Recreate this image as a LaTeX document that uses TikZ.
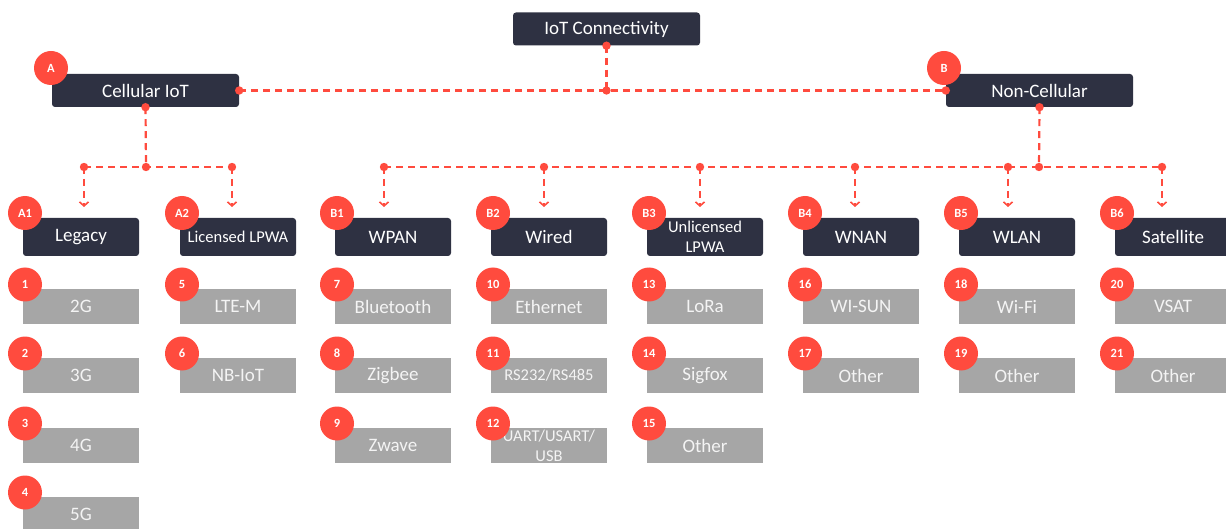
\documentclass[tikz,border=0pt]{standalone}
\usepackage{fontspec}
\setmainfont{Carlito}
\usetikzlibrary{arrows.meta,calc}
\definecolor{dk}{HTML}{2E3142}
\definecolor{rd}{HTML}{FF4B3E}
\definecolor{gy}{HTML}{A6A6A6}
\definecolor{gtx}{HTML}{F4F4F4}
\begin{document}
\begin{tikzpicture}[x=1pt,y=-1pt,
  dbox/.style={fill=dk,rounded corners=3pt,text=white,font=\fontsize{19}{20}\selectfont,minimum width=116pt,minimum height=38pt,inner sep=0pt,align=center},
  topbox/.style={dbox,minimum width=187pt,minimum height=33pt},
  gbox/.style={fill=gy,text=gtx,font=\fontsize{19}{20}\selectfont,minimum width=116pt,minimum height=35pt,inner sep=0pt,align=center},
  small/.style={font=\fontsize{16.5}{20}\selectfont},
  badge/.style={circle,fill=rd,text=white,font=\bfseries\fontsize{12.5}{12}\selectfont,minimum size=34pt,inner sep=0pt},
  link/.style={draw=rd,line width=2.2pt,dash pattern=on 7pt off 5pt},
  arr/.style={link,-{Straight Barb[length=4pt,width=9pt,line width=1.6pt]}},
  jdot/.style={fill=rd}
]
\useasboundingbox (0,0) rectangle (1226,529);

% top level
\node[topbox] (iot) at (606.5,29) {IoT Connectivity};
\node[topbox] (cell) at (145.5,90.5) {Cellular IoT};
\node[topbox] (ncell) at (1039.5,90.5) {Non-Cellular};
\node[badge] (bA) at (51,68) {A};
\node[badge] (bB) at (944,68) {B};

% second level
\node[dbox] (c1) at (81,237) {Legacy};
\node[dbox,small] (c2) at (238,237) {Licensed LPWA};
\node[dbox] (c3) at (393,237) {WPAN};
\node[dbox] (c4) at (549,237) {Wired};
\node[dbox,small] (c5) at (705,237) {Unlicensed\\LPWA};
\node[dbox] (c6) at (861,237) {WNAN};
\node[dbox] (c7) at (1017,237) {WLAN};
\node[dbox] (c8) at (1173,237) {Satellite};
\foreach \n/\x/\t in {b1/25/A1,b2/182/A2,b3/337/B1,b4/493/B2,b5/649/B3,b6/805/B4,b7/961/B5,b8/1117/B6}
  \node[badge] (\n) at (\x,213) {\t};

% connectors
\coordinate (jtop) at (606.5,90.5);
\coordinate (jA) at (146,167);
\coordinate (jB) at (1039,167);
\coordinate (aL) at (84,167);
\coordinate (aR) at (232,167);
\coordinate (bL) at (384,167);
\coordinate (bR) at (1162,167);
\draw[link] (iot.south) -- (jtop);
\draw[link] (cell.east) -- (ncell.west);
\draw[link] (cell.south) -- (jA);
\draw[link] (aL) -- (aR);
\draw[link] (ncell.south) -- (jB);
\draw[link] (bL) -- (bR);
\foreach \x in {84,232,384,544,700,855,1008,1162}
  \draw[arr] (\x,167) -- (\x,207);
\foreach \p in {iot.south,jtop,cell.east,ncell.west,cell.south,ncell.south,jA,jB}
  \fill[jdot] (\p) circle (4.2);
\foreach \x in {84,232,384,544,700,855,1008,1162}
  \fill[jdot] (\x,167) circle (4.2);

% third level items
\foreach \n/\x/\y/\num/\t in {
  i1/81/306.5/1/2G, i2/81/375.5/2/3G, i3/81/445.5/3/4G, i4/81/514.5/4/5G,
  i5/238/306.5/5/LTE-M, i6/238/375.5/6/NB-IoT,
  i7/393/306.5/7/Bluetooth, i8/393/375.5/8/Zigbee, i9/393/445.5/9/Zwave,
  i10/549/306.5/10/Ethernet,
  i13/705/306.5/13/LoRa, i14/705/375.5/14/Sigfox, i15/705/445.5/15/Other,
  i16/861/306.5/16/WI-SUN, i17/861/375.5/17/Other,
  i18/1017/306.5/18/Wi-Fi, i19/1017/375.5/19/Other,
  i20/1173/306.5/20/VSAT, i21/1173/375.5/21/Other}
{
  \node[gbox] (\n) at (\x,\y) {\t};
  \node[badge] (n\n) at ($(\x,\y)+(-56,-22)$) {\num};
}
\node[gbox,small] (i11) at (549,375.5) {RS232/RS485};
\node[badge] (ni11) at ($(549,375.5)+(-56,-22)$) {11};
\node[gbox,small] (i12) at (549,445.5) {UART/USART/\\USB};
\node[badge] (ni12) at ($(549,445.5)+(-56,-22)$) {12};
\end{tikzpicture}
\end{document}
